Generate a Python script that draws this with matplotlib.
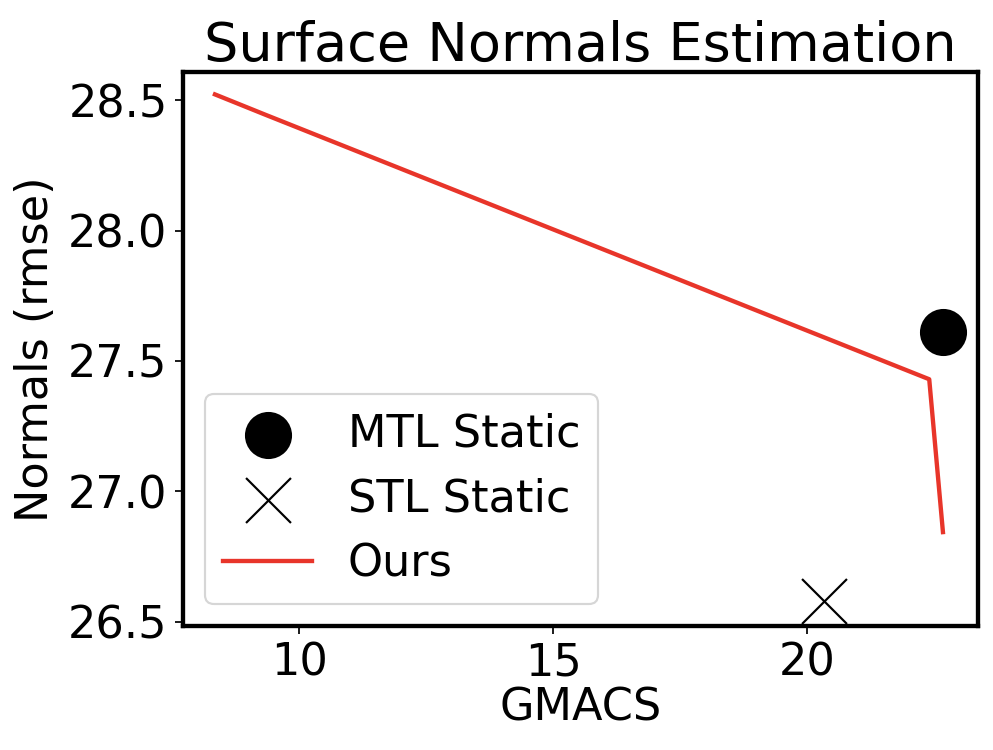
import matplotlib
matplotlib.use("Agg")
import matplotlib.pyplot as plt

# Data
ours_gmacs = [8.34, 9.32, 22.40, 22.67]
ours_rmse = [28.522, 28.445, 27.430, 26.844]
mtl_gmacs = [22.67]
mtl_rmse = [27.61]
stl_gmacs = [20.32]
stl_rmse = [26.579]

fig = plt.figure(figsize=(994/156, 750/156), dpi=156)
ax = fig.add_axes([0.1838, 0.1653, 0.8001, 0.7391])

ax.scatter(mtl_gmacs, mtl_rmse, s=430, color='black', marker='o', label='MTL Static', zorder=3)
ax.scatter(stl_gmacs, stl_rmse, s=430, color='black', marker='x', linewidths=1.0, label='STL Static', zorder=3)
ax.plot(ours_gmacs, ours_rmse, color='#e8352a', lw=2, label='Ours')

ax.set_xlim(7.705, 23.36)
ax.set_ylim(26.484, 28.609)
ax.set_xticks([10, 15, 20])
ax.set_yticks([26.5, 27.0, 27.5, 28.0, 28.5])
ax.tick_params(labelsize=20.6)
for s in ax.spines.values():
    s.set_linewidth(2)

ax.set_xlabel('GMACS', fontsize=20.6, labelpad=1)
ax.set_ylabel('Normals (rmse)', fontsize=20.6, labelpad=5)
ax.set_title('Surface Normals Estimation', fontsize=25, pad=5)
ax.legend(loc='lower left', fontsize=20.6)

fig.savefig('out.png', dpi=156)
